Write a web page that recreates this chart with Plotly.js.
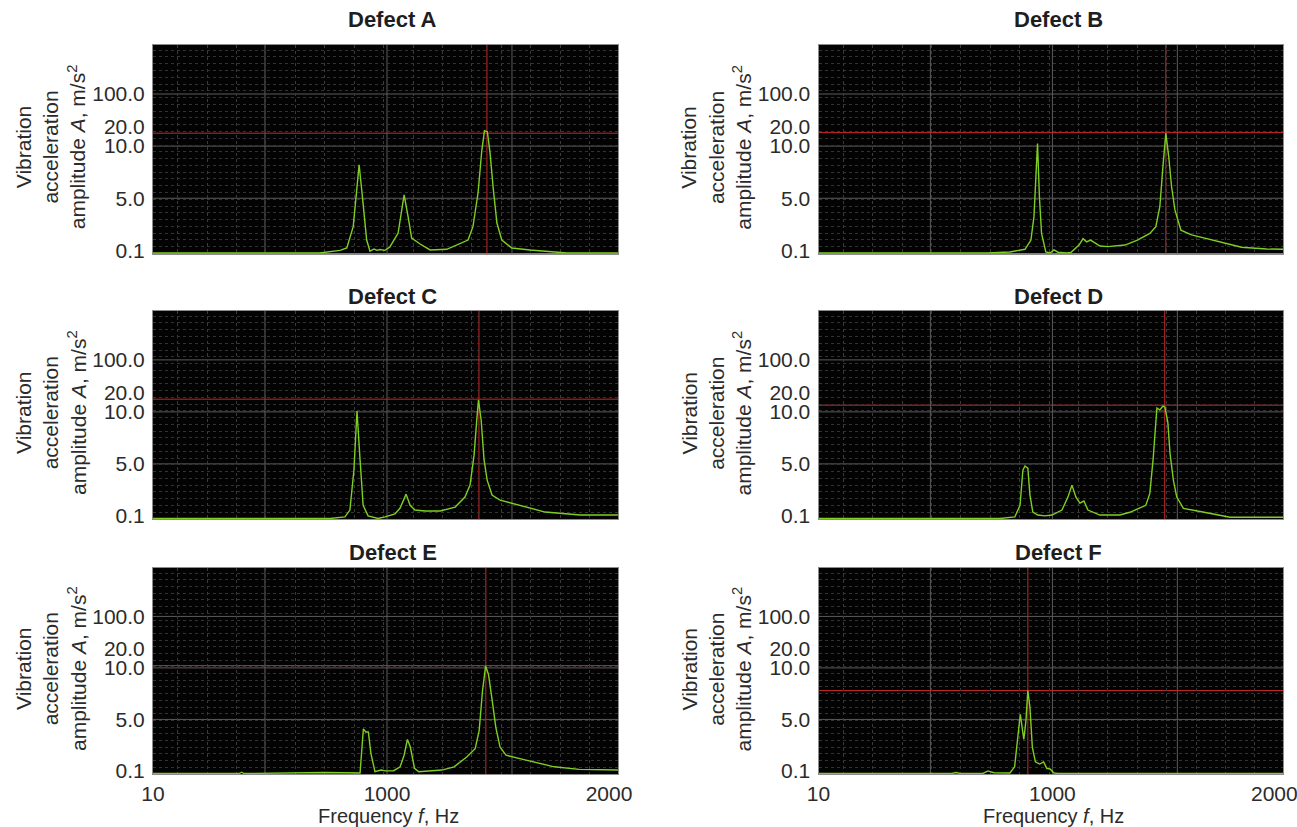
<!DOCTYPE html>
<html><head><meta charset="utf-8">
<script src="https://cdn.plot.ly/plotly-3.0.1.min.js"></script>
<style>html,body{margin:0;padding:0;background:#fff}</style>
</head><body><div id="chart" style="width:1297px;height:827px"></div>
<script>
// ---------- data (frequency in Hz, amplitude in m/s^2) ----------
const panelNames = ['Defect A', 'Defect B', 'Defect C', 'Defect D', 'Defect E', 'Defect F'];

const freqA = [10, 715, 801, 830, 857, 882, 893, 903, 914, 928, 945, 958, 970, 991, 1013, 1050, 1077, 1095, 1111, 1149, 1194, 1269, 1365, 1387, 1410, 1427, 1439, 1452, 1464, 1479, 1495, 1517, 1562, 1644, 1748, 1811, 2040];
const ampA  = [0, 0, 0.1, 0.32, 2.33, 8.2, 5.8, 3.27, 1.07, 0.07, 0.23, 0.1, 0.18, 0.1, 0.42, 1.73, 5.32, 3.27, 1.26, 0.7, 0.14, 0.2, 1.07, 2.33, 5.5, 9.6, 18.0, 17.5, 9.35, 5.8, 2.67, 1.07, 0.32, 0.14, 0.03, 0, 0];

const freqB = [10, 725, 820, 884, 909, 922, 937, 945, 954, 972, 990, 1007, 1025, 1064, 1083, 1120, 1138, 1154, 1172, 1214, 1250, 1327, 1383, 1439, 1466, 1484, 1498, 1511, 1524, 1537, 1552, 1579, 1627, 1721, 1852, 1965, 2040];
const ampB  = [0, 0, 0.04, 0.2, 1.07, 3.27, 11.4, 5.15, 1.7, 0.04, 0, 0.14, 0.03, 0, 0.02, 0.6, 1.2, 0.9, 1.07, 0.51, 0.45, 0.6, 1.07, 1.7, 2.33, 4.2, 8.03, 16.7, 9.0, 6.1, 3.9, 2.0, 1.55, 1.07, 0.39, 0.23, 0.2];

const freqC = [10, 759, 822, 843, 860, 873, 886, 899, 920, 937, 962, 992, 1036, 1059, 1086, 1104, 1126, 1171, 1239, 1307, 1351, 1374, 1392, 1406, 1412, 1424, 1437, 1451, 1473, 1509, 1599, 1712, 1870, 2040];
const ampC  = [0, 0, 0.06, 0.65, 4.4, 10.5, 5.4, 1.1, 0.1, 0.06, 0, 0.06, 0.28, 0.84, 2.15, 1.1, 0.65, 0.56, 0.56, 0.93, 1.87, 3.0, 5.84, 9.7, 16.1, 9.2, 5.4, 3.47, 2.06, 1.59, 1.1, 0.46, 0.18, 0.18];

const freqD = [10, 778, 841, 863, 875, 884, 896, 905, 917, 938, 968, 998, 1043, 1070, 1088, 1106, 1124, 1142, 1160, 1214, 1304, 1349, 1379, 1421, 1439, 1454, 1466, 1471, 1484, 1498, 1507, 1520, 1530, 1545, 1560, 1590, 1695, 1800, 2040];
const ampD  = [0, 0, 0.06, 1.1, 4.4, 4.8, 4.6, 2.06, 0.46, 0.18, 0.1, 0.18, 0.65, 1.87, 3.0, 1.87, 1.3, 1.5, 0.65, 0.18, 0.18, 0.44, 0.72, 1.1, 2.22, 5.5, 9.0, 12.0, 11.0, 13.0, 12.5, 9.0, 6.0, 3.47, 1.9, 0.81, 0.4, 0.05, 0.05];

const freqE = [10, 375, 385, 395, 738, 844, 886, 900, 910, 921, 932, 949, 975, 993, 1030, 1059, 1077, 1092, 1105, 1124, 1143, 1247, 1302, 1359, 1397, 1415, 1430, 1444, 1457, 1472, 1490, 1509, 1536, 1640, 1753, 1865, 2040];
const ampE  = [0, 0, 0.05, 0, 0.04, 0.04, 0.02, 4.1, 3.8, 3.8, 1.75, 0.07, 0.18, 0.1, 0.12, 0.49, 1.59, 3.1, 2.37, 0.34, 0.07, 0.18, 0.49, 1.43, 2.22, 3.94, 7.76, 11.0, 9.37, 7.12, 4.25, 2.37, 1.59, 1.06, 0.49, 0.25, 0.18];

const freqF = [10, 575, 592, 609, 706, 727, 752, 820, 840, 852, 864, 879, 888, 896, 905, 915, 928, 946, 963, 976, 990, 1007, 1024, 2040];
const ampF  = [0, 0, 0.04, 0, 0, 0.1, 0.03, 0.02, 0.49, 3.0, 5.5, 3.1, 4.9, 7.8, 6.16, 2.37, 0.96, 0.75, 0.96, 0.34, 0.28, 0.02, 0, 0];

// cursor (red crosshair) readings for each panel
const cursorFreq = [1450, 1511, 1414, 1506, 1445, 896];
const cursorAmp  = [16.7, 17.0, 16.6, 13.5, 11.2, 7.8];

// tick labels of the reference axes
const yTickLabels = [0.1, 5, 10, 20, 100];
const yGridLabels = [5, 10, 100];
const xTickLabels = [10, 1000, 2000];

// ---------- the reference's (non-uniform) axis scales ----------
const ampBreaks  = [0, 0.1, 5, 10, 20, 100];
const ampPos     = [-0.05, 0, 1, 2, 2.37, 3];
const freqBreaks = [10, 1000, 2000];
const freqPos    = [0, 2.013, 3.923];
function interp(v, xs, ys) {
  let i = 0;
  if (v <= xs[0]) i = 0;
  else if (v >= xs[xs.length - 1]) i = xs.length - 2;
  else { while (v > xs[i + 1]) i++; }
  return ys[i] + (v - xs[i]) * (ys[i + 1] - ys[i]) / (xs[i + 1] - xs[i]);
}
const yScale = a => interp(a, ampBreaks, ampPos);
const xScale = f => interp(f, freqBreaks, freqPos);

// ---------- layout geometry ----------
const W = 1297, H = 827;
const colX = [[153, 618], [818.5, 1283.3]];
const rowY = [[45, 253.5], [311, 519], [568, 774]];
const titleX = [393, 1058], titleY = [20, 296, 552];
const px = x => x / W, py = y => 1 - y / H;

const freqs = [freqA, freqB, freqC, freqD, freqE, freqF];
const amps = [ampA, ampB, ampC, ampD, ampE, ampF];

const GREEN = '#7fcf22', RED = '#c62a2a';
const FONT = 'Liberation Sans, Arial, sans-serif';
const data = [], shapes = [], annotations = [];
const layout = {
  width: W, height: H, margin: {l: 0, r: 0, t: 0, b: 0},
  paper_bgcolor: '#ffffff', plot_bgcolor: '#030303', showlegend: false,
  font: {family: FONT, size: 21, color: '#2b2b2b'}
};

const minorX = [], minorY = [];
for (let v = 0.213; v < 4; v += 0.253) minorX.push(v);
for (let v = -0.06 + 0.13; v < 3.94; v += 0.13) minorY.push(v);
const majorX = [0.963, xScale(1000), 3.088];

for (let k = 0; k < 6; k++) {
  const col = k % 2, row = Math.floor(k / 2);
  const n = k === 0 ? '' : String(k + 1);
  const xa = 'x' + n, ya = 'y' + n;
  data.push({
    type: 'scatter', mode: 'lines', xaxis: xa, yaxis: ya,
    x: freqs[k].map(xScale), y: amps[k].map(yScale),
    line: {color: GREEN, width: 1.4}, hoverinfo: 'skip'
  });
  const bottom = row === 2;
  layout['xaxis' + n] = {
    domain: [px(colX[col][0]), px(colX[col][1])], anchor: ya, range: [0, 4],
    showgrid: false, zeroline: false, showline: true, mirror: true, linecolor: '#8c8c8c', linewidth: 1,
    tickmode: 'array', tickvals: bottom ? xTickLabels.map(xScale) : [], ticktext: bottom ? xTickLabels.map(String) : [],
    showticklabels: bottom, ticks: '', ticklabelstandoff: 1, ticklabeloverflow: 'allow',
    tickfont: {family: FONT, size: 21, color: '#2b2b2b'},
    minor: {tickmode: 'array', tickvals: minorX, showgrid: true, gridcolor: '#3a3a3a', griddash: 'dot', gridwidth: 1, ticks: ''},
    fixedrange: true
  };
  layout['yaxis' + n] = {
    domain: [py(rowY[row][1]), py(rowY[row][0])], anchor: xa, range: [-0.06, 3.94],
    showgrid: false, zeroline: false, showline: true, mirror: true, linecolor: '#8c8c8c', linewidth: 1,
    tickmode: 'array', tickvals: yTickLabels.map(yScale), ticktext: yTickLabels.map(v => v.toFixed(1)),
    ticks: '', ticklabelstandoff: 3,
    tickfont: {family: FONT, size: 21, color: '#2b2b2b'},
    minor: {tickmode: 'array', tickvals: minorY, showgrid: true, gridcolor: '#333333', griddash: 'dot', gridwidth: 1, ticks: ''},
    fixedrange: true
  };
  // major grid lines
  majorX.forEach(v => shapes.push({type: 'line', layer: 'below', xref: xa, yref: ya + ' domain', x0: v, x1: v, y0: 0, y1: 1, line: {color: '#5c5c5c', width: 1}}));
  yGridLabels.forEach(a => shapes.push({type: 'line', layer: 'below', xref: xa + ' domain', yref: ya, x0: 0, x1: 1, y0: yScale(a), y1: yScale(a), line: {color: '#5c5c5c', width: 1}}));
  // red cursor
  shapes.push({type: 'line', layer: 'below', xref: xa, yref: ya + ' domain', x0: xScale(cursorFreq[k]), x1: xScale(cursorFreq[k]), y0: 0, y1: 1, line: {color: RED, width: 1}});
  shapes.push({type: 'line', layer: 'below', xref: xa + ' domain', yref: ya, x0: 0, x1: 1, y0: yScale(cursorAmp[k]), y1: yScale(cursorAmp[k]), line: {color: RED, width: 1}});

  // subplot title
  annotations.push({xref: 'paper', yref: 'paper', x: px(titleX[col]), y: py(titleY[row]), xanchor: 'center', yanchor: 'middle',
    text: '<b>' + panelNames[k] + '</b>', showarrow: false, font: {family: FONT, size: 22, color: '#1e1e1e'}});
  // y title
  const cy = (rowY[row][0] + rowY[row][1]) / 2;
  annotations.push({xref: 'paper', yref: 'paper', x: px(colX[col][0] - 102), y: py(cy - 2), xanchor: 'center', yanchor: 'middle',
    textangle: -90, text: 'Vibration<br>acceleration<br>amplitude <i>A</i>, m/s<sup>2</sup>', showarrow: false,
    font: {family: FONT, size: 21, color: '#2b2b2b'}});
  if (bottom) {
    annotations.push({xref: 'paper', yref: 'paper', x: px((colX[col][0] + colX[col][1]) / 2 + 3), y: py(815.5), xanchor: 'center', yanchor: 'middle',
      text: 'Frequency <i>f</i>, Hz', showarrow: false, font: {family: FONT, size: 20, color: '#2b2b2b'}});
  }
}
layout.shapes = shapes;
layout.annotations = annotations;
Plotly.newPlot('chart', data, layout, {displayModeBar: false, staticPlot: true});
</script></body></html>
